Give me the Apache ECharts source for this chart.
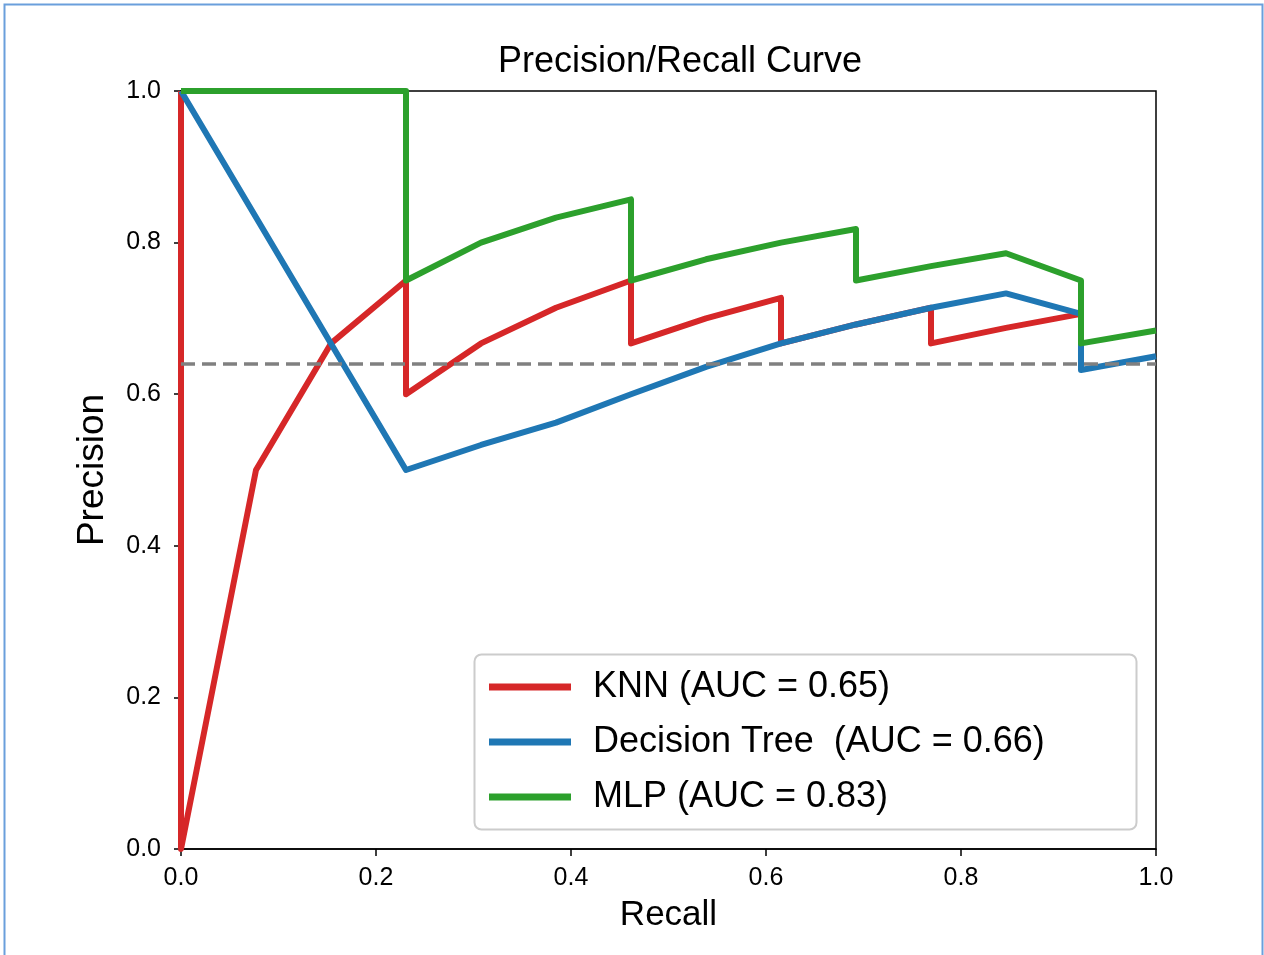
<!DOCTYPE html>
<html>
<head>
<meta charset="utf-8">
<script src="https://cdn.jsdelivr.net/npm/echarts@6/dist/echarts.min.js"></script>
<style>html,body{margin:0;padding:0;background:#fff;}#c{width:1264px;height:955px;}</style>
</head>
<body>
<div id="c"></div>
<script>
const seriesNames = ['KNN (AUC = 0.65)', 'Decision Tree  (AUC = 0.66)', 'MLP (AUC = 0.83)'];
const knnRecall = [0, 0, 1/13, 2/13, 3/13, 3/13, 4/13, 5/13, 6/13, 6/13, 7/13, 8/13, 8/13, 9/13, 10/13, 10/13, 11/13, 12/13];
const knnPrecision = [1.0, 0.0, 0.5, 0.667, 0.75, 0.6, 0.667, 0.714, 0.75, 0.667, 0.7, 0.727, 0.667, 0.692, 0.714, 0.667, 0.6875, 0.706];
const dtRecall = [0, 3/13, 4/13, 5/13, 6/13, 7/13, 8/13, 9/13, 10/13, 11/13, 12/13, 12/13, 1.0];
const dtPrecision = [1.0, 0.5, 0.533, 0.5625, 0.6, 0.636, 0.667, 0.692, 0.714, 0.733, 0.706, 0.632, 0.65];
const mlpRecall = [0, 3/13, 3/13, 4/13, 5/13, 6/13, 6/13, 7/13, 8/13, 9/13, 9/13, 10/13, 11/13, 12/13, 12/13, 1.0];
const mlpPrecision = [1.0, 1.0, 0.75, 0.8, 0.833, 0.857, 0.75, 0.778, 0.8, 0.818, 0.75, 0.769, 0.786, 0.75, 0.667, 0.684];
const baseline = 0.64;
const colors = ['#d62728', '#1f77b4', '#2ca02c'];

function pairs(xs, ys) { return xs.map((x, i) => [x, ys[i]]); }
const FONT = 'Liberation Sans, Arial, sans-serif';

const chart = echarts.init(document.getElementById('c'), null, {renderer: 'canvas'});
const mk = (name, xs, ys, color, z) => ({
  name, type: 'line', data: pairs(xs, ys), showSymbol: false, symbol: 'none',
  lineStyle: {color, width: 6, join: 'round', cap: 'butt'}, itemStyle: {color},
  animation: false, z, clip: true
});
chart.setOption({
  animation: false,
  backgroundColor: '#fff',
  title: {
    text: 'Precision/Recall Curve', left: 675, top: 39, textAlign: 'center',
    textStyle: {fontFamily: FONT, fontSize: 36, fontWeight: 'normal', color: '#000'}
  },
  grid: {left: 181, right: 108, top: 91, bottom: 106, show: true, borderColor: '#000', borderWidth: 1.5, backgroundColor: 'transparent'},
  xAxis: {
    type: 'value', min: 0, max: 1, interval: 0.2,
    name: 'Recall', nameLocation: 'middle', nameGap: 49,
    nameTextStyle: {fontFamily: FONT, fontSize: 35, color: '#000'},
    axisLine: {show: true, onZero: false, lineStyle: {color: '#000', width: 1.5}},
    axisTick: {show: true, inside: false, length: 7, lineStyle: {color: '#000', width: 1.5}},
    axisLabel: {fontFamily: FONT, fontSize: 25, color: '#000', margin: 17, formatter: v => v.toFixed(1)},
    splitLine: {show: false}
  },
  yAxis: {
    type: 'value', min: 0, max: 1, interval: 0.2,
    name: 'Precision', nameLocation: 'middle', nameGap: 70, nameRotate: 90,
    nameTextStyle: {fontFamily: FONT, fontSize: 37, color: '#000'},
    axisLine: {show: true, onZero: false, lineStyle: {color: '#000', width: 1.5}},
    axisTick: {show: true, inside: false, length: 7, lineStyle: {color: '#000', width: 1.5}},
    axisLabel: {fontFamily: FONT, fontSize: 25, color: '#000', margin: 20, formatter: v => v.toFixed(1)},
    splitLine: {show: false}
  },
  legend: {
    orient: 'vertical', left: 484, top: 664, z: 10,
    itemWidth: 82, itemHeight: 7, itemGap: 19, icon: 'rect',
    textStyle: {fontFamily: FONT, fontSize: 36, color: '#000', padding: [0, 0, 0, 17]},
    data: seriesNames
  },
  graphic: [
    {type: 'rect', z: 5, shape: {x: 474.5, y: 654.5, width: 662, height: 175, r: 7},
     style: {fill: 'rgba(255,255,255,0.8)', stroke: '#cccccc', lineWidth: 2}},
    {type: 'rect', z: 0, shape: {x: 4.5, y: 4.5, width: 1258, height: 980},
     style: {fill: 'none', stroke: '#6a9fdc', lineWidth: 2}}
  ],
  series: [
    mk(seriesNames[0], knnRecall, knnPrecision, colors[0], 2),
    mk(seriesNames[1], dtRecall, dtPrecision, colors[1], 3),
    mk(seriesNames[2], mlpRecall, mlpPrecision, colors[2], 4),
    {
      name: 'baseline', type: 'line', data: [[0, baseline], [1, baseline]], showSymbol: false, symbol: 'none',
      lineStyle: {color: '#808080', width: 3.5, type: [14, 7]}, z: 6, animation: false, silent: true
    }
  ]
});
</script>
</body>
</html>
